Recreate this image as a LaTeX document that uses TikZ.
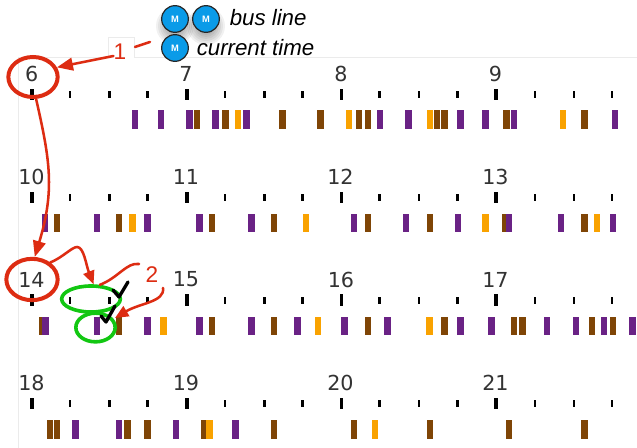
\documentclass[tikz,border=0pt]{standalone}
\usepackage{fontspec}
\setmainfont{DejaVu Sans}
\newfontfamily\annofont{Liberation Sans}
\usetikzlibrary{arrows.meta,shapes.geometric}
\definecolor{bpurple}{HTML}{6A2285}
\definecolor{bbrown}{HTML}{7F4506}
\definecolor{borange}{HTML}{F9A200}
\definecolor{annored}{HTML}{DD2C12}
\definecolor{ringgreen}{HTML}{12C712}
\definecolor{badgeblue}{HTML}{0A9BE8}
\definecolor{hourtext}{HTML}{333333}
\definecolor{frameline}{HTML}{EBEBEB}
\tikzset{
  x=0.75pt,y=-0.75pt,
  hourlabel/.style={text=hourtext,font=\fontsize{15.5pt}{15.5pt}\selectfont,inner sep=0pt,anchor=center},
  ring/.style={ellipse,draw,inner sep=0pt},
  redring/.style={ring,draw=annored,line width=3pt},
  greenring/.style={ring,draw=ringgreen,line width=2.7pt},
  badge/.style={circle,draw=black!85,fill=badgeblue,line width=0.9pt,minimum size=20pt,inner sep=0pt,text=white,font=\annofont\bfseries\fontsize{7pt}{7pt}\selectfont},
  legendtext/.style={font=\annofont\itshape\fontsize{16.7pt}{16.7pt}\selectfont,inner sep=0pt,anchor=west},
  annonum/.style={text=annored,font=\annofont\fontsize{17pt}{17pt}\selectfont,inner sep=0pt},
  annoline/.style={draw=annored,line width=1.9pt,line cap=round},
  bigarrow/.style={annoline,-{Triangle[length=12pt,width=9.5pt]}},
  midarrow/.style={annoline,-{Triangle[length=10pt,width=8.5pt]}},
  checkline/.style={draw=black,line width=2.5pt,line cap=round,line join=round},
}
\newcommand{\busrow}[2]{%
  \foreach \bx/\bc in {#2} {\fill[\bc] ({\bx-3.2},#1) rectangle ({\bx+3.2},{#1+18.5});}}
\newcommand{\tickrow}[1]{%
  \foreach \tx in {32.3,187,341.5,496} {\fill[black] ({\tx-1.9},#1) rectangle ({\tx+1.9},{#1+11.3});}
  \foreach \tx in {70,109.5,147.5,225,264.5,302.5,379.5,419,457.5,535,574,612} {\fill[black] ({\tx-1.2},{#1+2.3}) rectangle ({\tx+1.2},{#1+9.3});}}
\begin{document}
\begin{tikzpicture}
\useasboundingbox (0,0) rectangle (637,448);
\fill[white] (0,0) rectangle (637,448);
% faint frame
\draw[frameline,line width=0.6pt] (18,448) -- (18,57) -- (108,57) -- (108,37) -- (134,37) -- (134,57) -- (637,57);
% ticks
\tickrow{88.7}
\tickrow{191.7}
\tickrow{294.4}
\tickrow{398}
% bars
\busrow{110.5}{135/bpurple,161/bpurple,189.5/bpurple,197/bbrown,215.5/bpurple,225.3/bbrown,237.7/borange,246.3/bpurple,282.3/bbrown,320.5/bbrown,349/borange,359/bbrown,367.7/bbrown,380/bpurple,408.3/bpurple,429.7/borange,437/bbrown,444.3/bbrown,460.3/bpurple,485.3/bpurple,506.3/bbrown,513.7/bpurple,563/borange,584.3/bbrown,615/bpurple}
\busrow{214}{44.7/bpurple,57/bbrown,96.7/bpurple,119/bbrown,132.3/borange,147.3/bpurple,199.3/bpurple,211.7/bbrown,251.3/bpurple,273.7/bbrown,305.7/borange,354/bpurple,367.7/bbrown,406/bpurple,429.7/bbrown,458/bpurple,485.3/borange,504.7/bbrown,508.7/bpurple,560.7/bpurple,584.3/bbrown,596.7/borange,612.7/bpurple}
\busrow{316.7}{42.3/bbrown,45.3/bpurple,96.7/bpurple,119/bbrown,147.3/bpurple,163.3/borange,199.3/bpurple,211.7/bbrown,251.3/bpurple,273.7/bbrown,297.3/bpurple,318/borange,344.3/bpurple,367.7/bbrown,387.3/bpurple,429.3/borange,444.3/bbrown,460.3/bpurple,491.3/bpurple,513.7/bbrown,522.3/bbrown,547/bpurple,575.7/bpurple,591.7/bbrown,604/bpurple,612.7/bbrown,632.3/bpurple}
\busrow{420.3}{49.7/bbrown,57/bbrown,75.3/bpurple,119/bpurple,127.3/bbrown,147.3/bbrown,176/bpurple,204/bbrown,209.3/borange,235.3/bpurple,273.7/bbrown,354/bbrown,375/borange,429.7/bbrown,508.7/bbrown,584.3/bbrown}
% hour labels
\node[hourlabel] (h6) at (31.7,74) {6};
\node[hourlabel] (h7) at (186,74) {7};
\node[hourlabel] (h8) at (341,74) {8};
\node[hourlabel] (h9) at (495.5,74) {9};
\node[hourlabel] (h10) at (31.5,176.7) {10};
\node[hourlabel] (h11) at (186,176.7) {11};
\node[hourlabel] (h12) at (340.5,176.7) {12};
\node[hourlabel] (h13) at (495.5,176.7) {13};
\node[hourlabel] (h14) at (31.5,279.5) {14};
\node[hourlabel] (h15) at (186,279.5) {15};
\node[hourlabel] (h16) at (341,279.5) {16};
\node[hourlabel] (h17) at (495.5,279.5) {17};
\node[hourlabel] (h18) at (31.5,382.7) {18};
\node[hourlabel] (h19) at (186,382.7) {19};
\node[hourlabel] (h20) at (340.5,382.7) {20};
\node[hourlabel] (h21) at (495.5,382.7) {21};
% legend shadows
\foreach \r in {9,11,13,15,17,19} {
  \fill[black,opacity=0.055] (175,26) circle[radius=\r];
  \fill[black,opacity=0.055] (206,26) circle[radius=\r];
}
% legend
\node[badge] (bl1) at (175,19) {M};
\node[badge] (bl2) at (206,19) {M};
\node[badge] (bl3) at (175,48) {M};
\node[legendtext] (busline) at (229.5,18) {bus line};
\node[legendtext] (curtime) at (196.5,47.5) {current time};
% rings
\node[redring,minimum width=37pt,minimum height=30pt] (c6) at (33,77) {};
\node[redring,minimum width=38.5pt,minimum height=31pt] (c14) at (32,279.5) {};
\node[greenring,minimum width=44pt,minimum height=19.5pt] (g1) at (91,299) {};
\node[greenring,minimum width=29.5pt,minimum height=21.5pt] (g2) at (95.5,327.5) {};
% numbers
\node[annonum] (n1) at (120,52) {1};
\node[annonum] (n2) at (152,274.5) {2};
\coordinate (bend1) at (150,42);
\coordinate (bend2) at (139,264);
\coordinate (bend3) at (163,288);
\coordinate (arrowtip) at (115,318);
% connectors
\draw[annoline] (bl3.west -| bend1) ++(0,-6) -- ++(-15,5);
\draw[bigarrow] (n1.west |- 0,56) -- (c6.22);
\draw[bigarrow] (c6.-82) .. controls (50,160) and (55,190) .. (c14.83);
\draw[midarrow] (c14.43) .. controls (62,258) and (72,247) .. (77,247) .. controls (84,247) and (86,265) .. (g1.80);
\draw[annoline] (g1.58) .. controls (118,278) and (127,262) .. (bend2);
\draw[midarrow] (bend3) .. controls (165,302) and (140,303) .. (arrowtip);
% check marks
\draw[checkline] (113,290) -- (119,297) -- (128,282);
\draw[checkline] (101,316) -- (106,322) -- (115,306);
\end{tikzpicture}
\end{document}
